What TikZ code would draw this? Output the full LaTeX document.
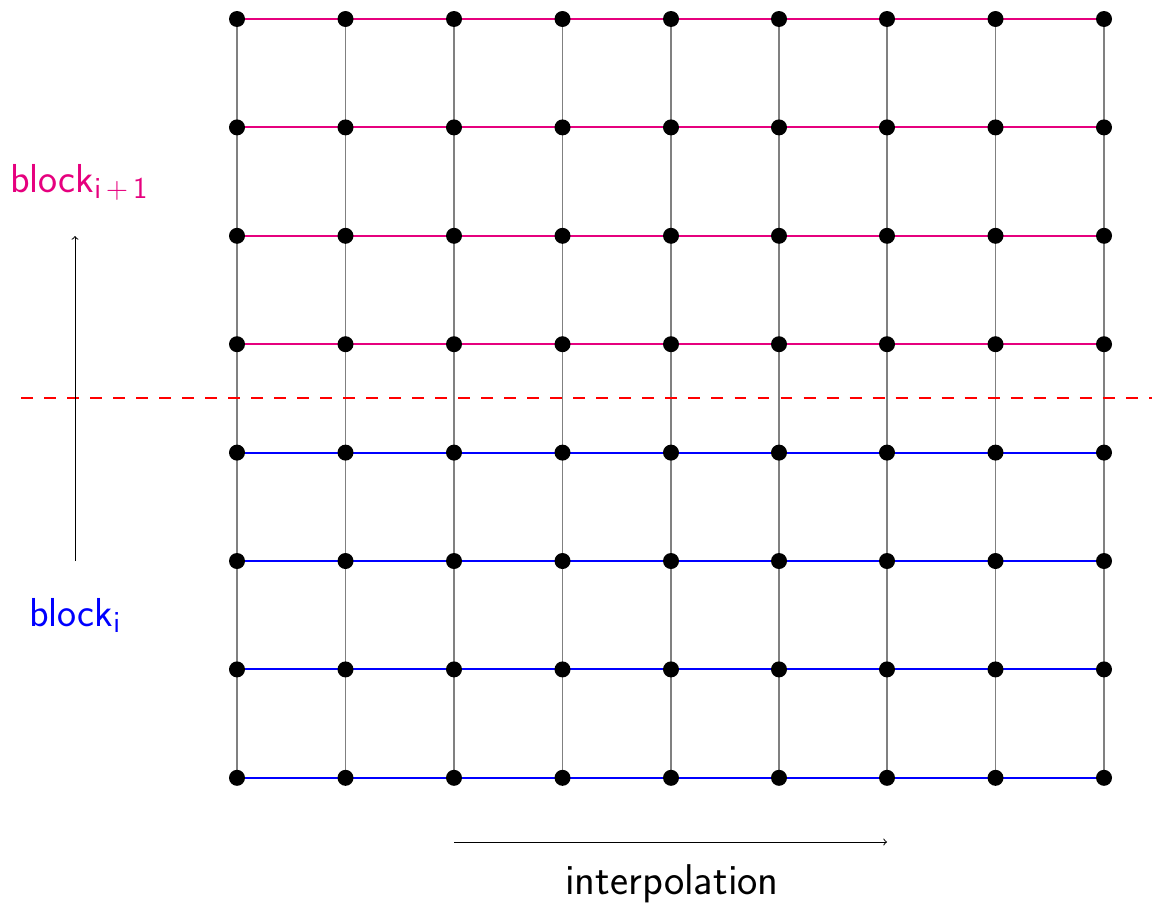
\documentclass[tikz,border=0pt]{standalone}
\usetikzlibrary{arrows.meta}
\definecolor{blockmag}{RGB}{230,0,126}
\begin{document}
\begin{tikzpicture}[x=0.02cm,y=-0.02cm,
  dot/.style={circle,fill=black,inner sep=0pt,minimum size=0.32cm},
  gridv/.style={draw=gray,line width=1.1pt},
  rowmag/.style={draw=blockmag,line width=1.2pt},
  rowblue/.style={draw=blue,line width=1.2pt},
  sep/.style={draw=red,line width=1.5pt,dash pattern=on 6.8pt off 6.3pt},
  axis/.style={draw=black,line width=0.55pt,-to},
  lab/.style={inner sep=0pt,anchor=base west,font=\sffamily\fontsize{24.5}{28}\selectfont},
  blab/.style={lab,font=\sffamily\fontsize{23}{27}\selectfont}]
\useasboundingbox (0,0) rectangle (1152,906);
% coordinates
\foreach \i/\x in {1/237,2/345.5,3/454,4/562.5,5/671,6/779,7/887,8/995.5,9/1104}{
  \foreach \j/\y in {1/19,2/127.4,3/235.8,4/344.2,5/452.6,6/561,7/669.4,8/777.8}{
    \coordinate (p-\i-\j) at (\x,\y);
  }
}
% vertical grid lines
\foreach \i in {1,...,9}{
  \draw[gridv] (p-\i-1) -- (p-\i-8);
}
% horizontal rows
\foreach \j in {1,...,4}{
  \draw[rowmag] (p-1-\j) -- (p-9-\j);
}
\foreach \j in {5,...,8}{
  \draw[rowblue] (p-1-\j) -- (p-9-\j);
}
% separator
\coordinate (s1) at (21,398);
\coordinate (s2) at (1152,398);
\draw[sep] (s1) -- (s2);
% dots
\foreach \i in {1,...,9}{
  \foreach \j in {1,...,8}{
    \node[dot] (n-\i-\j) at (p-\i-\j) {};
  }
}
% arrows
\coordinate (a1) at (75,561);
\coordinate (a2) at (75,236);
\draw[axis] (a1) -- (a2);
\coordinate (b1) at (454,842);
\coordinate (b2) at (887,842);
\draw[axis] (b1) -- (b2);
% labels
\node[blab,text=blockmag] (lup) at (10,192) {block$_{\mathsf{i}\,\mathsf{+}\,\mathsf{1}}$};
\node[blab,text=blue] (ldown) at (29,626) {block$_{\mathsf{i}}$};
\node[lab] (linterp) at (565,894) {interpolation};
\end{tikzpicture}
\end{document}
